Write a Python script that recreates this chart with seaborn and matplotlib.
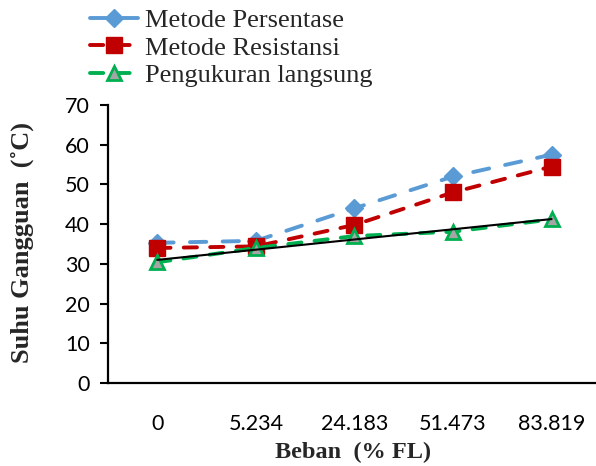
import numpy as np
import pandas as pd
import matplotlib
matplotlib.use("Agg")
import matplotlib.pyplot as plt
import seaborn as sns

# Load levels (% of full load) and fault temperatures (°C)
beban = ["0", "5.234", "24.183", "51.473", "83.819"]
persentase = [35.3, 35.8, 44.0, 52.0, 57.5]
resistansi = [34.0, 34.4, 39.8, 48.0, 54.5]
langsung = [30.4, 34.0, 37.0, 38.1, 41.2]

series_names = ["Metode Persentase", "Metode Resistansi", "Pengukuran langsung"]

sns.set_theme(style="ticks")
plt.rcParams["font.family"] = ["Lato", "DejaVu Sans"]

fig = plt.figure(figsize=(5.96, 4.66), dpi=100)
W, H = 596, 466
ax = fig.add_axes([108 / W, (H - 383) / H, (W - 108) / W, (383 - 105) / H])

blue, red, green = "#5B9BD5", "#C00000", "#00B050"

sns.lineplot(x=beban, y=persentase, sort=False, ax=ax, label=series_names[0],
             color=blue, linewidth=2.8, linestyle=(0, (4.2, 4.2)),
             dash_capstyle="round", marker="D", markersize=9,
             markerfacecolor=blue, markeredgecolor=blue, markeredgewidth=1)
sns.lineplot(x=beban, y=resistansi, sort=False, ax=ax, label=series_names[1],
             color=red, linewidth=2.8, linestyle=(0, (3.4, 3.4)),
             dash_capstyle="round", marker="s", markersize=11,
             markerfacecolor=red, markeredgecolor=red, markeredgewidth=1)
sns.lineplot(x=beban, y=langsung, sort=False, ax=ax, label=series_names[2],
             color=green, linewidth=2.8, linestyle=(0, (3.4, 3.4)),
             dash_capstyle="round", marker="^", markersize=10,
             markerfacecolor="#A5A5A5", markeredgecolor=green, markeredgewidth=2)

# Linear trend of the direct measurements
pos = np.arange(len(beban))
coef = np.polyfit(pos, langsung, 1)
sns.lineplot(x=beban, y=np.polyval(coef, pos), sort=False, ax=ax,
             color="black", linewidth=1.5, legend=False)

ax.set_ylim(0, 70)
ax.set_yticks(range(0, 71, 10))
ax.set_xlim(-0.5, 4.45)

for side in ("top", "right"):
    ax.spines[side].set_visible(False)
for side in ("left", "bottom"):
    ax.spines[side].set_color("black")
    ax.spines[side].set_linewidth(1.6)

ax.tick_params(axis="y", length=6, width=1.5, color="black", pad=7,
               labelsize=15.5, labelcolor="black")
ax.tick_params(axis="x", length=0, pad=22, labelsize=15.5, labelcolor="black")

serif = ["Liberation Serif", "DejaVu Serif"]
ax.set_xlabel("Beban  (% FL)", fontsize=17.5, fontweight="bold", family=serif)
ax.set_ylabel("Suhu Gangguan  (˚C)", fontsize=19, fontweight="bold", family=serif)
ax.xaxis.set_label_coords(0.503, -0.212)
ax.yaxis.set_label_coords(-0.152, 0.507)

leg = ax.legend(loc="upper left", bbox_to_anchor=(90 / W, 1 - 9 / H),
                bbox_transform=fig.transFigure, frameon=False,
                prop={"family": serif, "size": 19},
                handlelength=1.8, handletextpad=0.3, labelspacing=0.14,
                borderpad=0, borderaxespad=0)

fig.savefig("out.png", dpi=100)
